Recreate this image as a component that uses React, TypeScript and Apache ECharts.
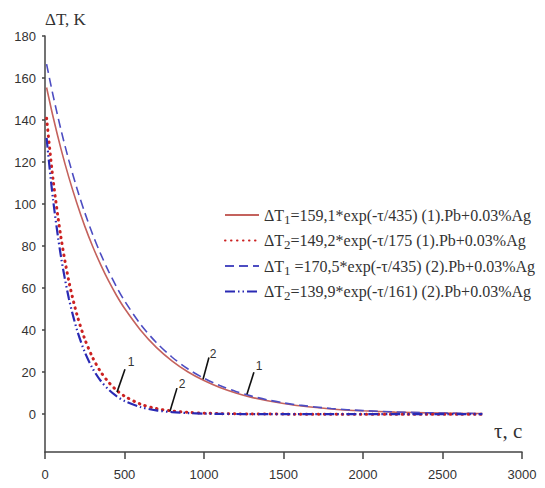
import React, { useEffect, useRef } from "react";
import * as echarts from "echarts";

const tau = [10, 50, 100, 150, 200, 250, 300, 350, 400, 450, 500, 600, 700, 800, 900, 1000, 1100, 1200, 1300, 1400, 1500, 1600, 1800, 2000, 2200, 2400, 2600, 2750];
const dT1_1 = [155.5, 141.8, 126.4, 112.7, 100.5, 89.5, 79.8, 71.2, 63.4, 56.5, 50.4, 40.1, 31.8, 25.3, 20.1, 16.0, 12.7, 10.1, 8.0, 6.4, 5.1, 4.0, 2.5, 1.6, 1.0, 0.64, 0.4, 0.29];
const dT2_1 = [140.9, 112.1, 84.3, 63.3, 47.6, 35.8, 26.9, 20.2, 15.2, 11.4, 8.6, 4.8, 2.7, 1.5, 0.87, 0.49, 0.28, 0.16, 0.09, 0.05, 0.03, 0.02, 0.01, 0, 0, 0, 0, 0];
const dT1_2 = [166.6, 152.0, 135.5, 120.8, 107.7, 96.0, 85.5, 76.3, 68.0, 60.6, 54.0, 42.9, 34.1, 27.1, 21.5, 17.1, 13.6, 10.8, 8.6, 6.8, 5.4, 4.3, 2.7, 1.7, 1.1, 0.69, 0.43, 0.31];
const dT2_2 = [131.5, 102.6, 75.2, 55.1, 40.4, 29.6, 21.7, 15.9, 11.7, 8.6, 6.3, 3.4, 1.8, 0.97, 0.52, 0.28, 0.15, 0.08, 0.04, 0.02, 0.01, 0, 0, 0, 0, 0, 0, 0];

const seriesNames = [
  "ΔT1=159,1*exp(-τ/435) (1).Pb+0.03%Ag",
  "ΔT2=149,2*exp(-τ/175 (1).Pb+0.03%Ag",
  "ΔT1 =170,5*exp(-τ/435) (2).Pb+0.03%Ag",
  "ΔT2=139,9*exp(-τ/161) (2).Pb+0.03%Ag",
];

const yTicks = [0, 20, 40, 60, 80, 100, 120, 140, 160, 180];

// annotation leader lines (data coordinates)
const annotLabels = ["1", "2", "2", "1"];
const annotStart = [[503, 21.4], [830, 12.4], [1031, 27.0], [1314, 20.0]];
const annotEnd = [[453, 10.5], [786, 1.4], [994, 16.6], [1270, 9.5]];
const annotText = [[541, 24.7], [862, 14.3], [1057, 28.5], [1346, 22.8]];

const toPairs = (ys: number[]) => tau.map((t, i) => [t, ys[i]]);

export default function App() {
  const ref = useRef<HTMLDivElement>(null);
  useEffect(() => {
    if (!ref.current) return;
    const chart = echarts.init(ref.current, null, { renderer: "svg" });
    const serif = "Liberation Serif";
    const sans = "Liberation Sans";
    chart.setOption({
      animation: false,
      backgroundColor: "#ffffff",
      grid: { left: 45, right: 23, top: 36, bottom: 36 },
      title: {
        text: "ΔT, K",
        left: 40,
        top: 6,
        textStyle: { fontFamily: serif, fontSize: 17, fontWeight: "normal", color: "#333" },
      },
      graphic: [
        {
          type: "text",
          left: 494,
          top: 420,
          style: { text: "τ, c", font: `21px "${serif}"`, fill: "#333" },
        },
      ],
      legend: {
        orient: "vertical",
        left: 219,
        top: 202,
        itemWidth: 34,
        itemHeight: 14,
        itemGap: 7,
        itemStyle: { opacity: 0 },
        formatter: (name: string) => name.replace(/^ΔT(\d)/, "ΔT{s|$1}"),
        textStyle: {
          fontFamily: serif,
          fontSize: 16,
          color: "#333",
          rich: {
            s: { fontFamily: serif, fontSize: 13, color: "#333", padding: [8, 0, 0, 0] },
          },
        },
      },
      xAxis: {
        type: "value",
        min: 0,
        max: 3000,
        interval: 500,
        splitLine: { show: false },
        axisLine: { show: true, onZero: false, lineStyle: { color: "#444", width: 1.5 } },
        axisTick: { show: true, length: 7, lineStyle: { color: "#444", width: 1.5 } },
        axisLabel: { fontFamily: sans, fontSize: 13, color: "#333", margin: 16, formatter: (v: number) => String(v) },
      },
      yAxis: {
        type: "value",
        min: -18,
        max: 180,
        splitLine: { show: false },
        axisLine: { show: true, onZero: false, lineStyle: { color: "#444", width: 1.5 } },
        axisTick: { show: true, length: 3, customValues: yTicks, lineStyle: { color: "#444", width: 1.5 } },
        axisLabel: { fontFamily: sans, fontSize: 13, color: "#333", margin: 9, customValues: yTicks, formatter: (v: number) => String(v) },
      },
      series: [
        {
          name: seriesNames[0],
          type: "line",
          data: toPairs(dT1_1),
          smooth: 0.3,
          symbol: "none",
          z: 3,
          lineStyle: { color: "#c4625d", width: 1.6, type: "solid" },
          itemStyle: { color: "#c4625d" },
          markLine: {
            silent: true,
            symbol: "none",
            label: { show: false },
            lineStyle: { color: "#111", width: 1.6, type: "solid" },
            data: annotStart.map((s, i) => [{ coord: s }, { coord: annotEnd[i] }]),
          },
          markPoint: {
            silent: true,
            symbol: "circle",
            symbolSize: 0,
            data: annotText.map((c, i) => ({
              coord: c,
              label: { show: true, formatter: annotLabels[i], fontFamily: sans, fontSize: 12, color: "#333" },
            })),
          },
        },
        {
          name: seriesNames[1],
          type: "line",
          data: toPairs(dT2_1),
          smooth: 0.3,
          symbol: "none",
          z: 4,
          lineStyle: { color: "#cc2222", width: 3, type: [0.5, 5.5], cap: "round" },
          itemStyle: { color: "#cc2222" },
        },
        {
          name: seriesNames[2],
          type: "line",
          data: toPairs(dT1_2),
          smooth: 0.3,
          symbol: "none",
          z: 3,
          lineStyle: { color: "#4d4dc2", width: 1.6, type: [9, 5] },
          itemStyle: { color: "#4d4dc2" },
        },
        {
          name: seriesNames[3],
          type: "line",
          data: toPairs(dT2_2),
          smooth: 0.3,
          symbol: "none",
          z: 5,
          lineStyle: { color: "#2a2ab4", width: 2.2, type: [10, 3, 1.5, 3, 1.5, 3] },
          itemStyle: { color: "#2a2ab4" },
        },
      ],
    });
    return () => chart.dispose();
  }, []);
  return (
    <div
      ref={ref}
      style={{ position: "fixed", left: 0, top: 0, width: 545, height: 488, background: "#fff" }}
    />
  );
}
